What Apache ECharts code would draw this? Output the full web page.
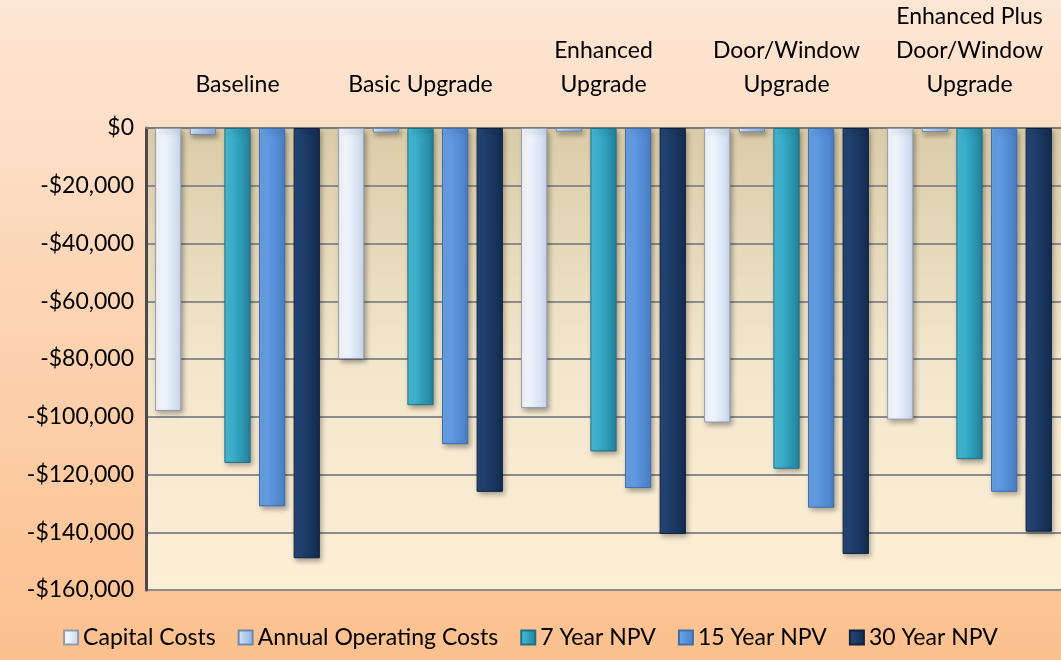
<!DOCTYPE html>
<html>
<head>
<meta charset="utf-8">
<script src="https://cdn.jsdelivr.net/npm/echarts@6/dist/echarts.min.js"></script>
<style>
  html, body { margin: 0; padding: 0; }
  #chart { width: 1061px; height: 660px; }
</style>
</head>
<body>
<div id="chart"></div>
<script>
// categories along the top
const categories = [
  'Baseline',
  'Basic Upgrade',
  'Enhanced\nUpgrade',
  'Door/Window\nUpgrade',
  'Enhanced Plus\nDoor/Window\nUpgrade'
]
const seriesNames = ['Capital Costs', 'Annual Operating Costs', '7 Year NPV', '15 Year NPV', '30 Year NPV']

// values (dollars)
const capitalCosts = [-98000, -80000, -97000, -102000, -101000]
const annualOperating = [-2400, -1600, -1300, -1500, -1400]
const npv7 = [-116000, -96000, -112000, -118000, -114700]
const npv15 = [-131000, -109500, -124700, -131500, -126000]
const npv30 = [-149000, -126000, -140600, -147500, -139800]

const yMin = -160000
const yMax = 0
const yStep = 20000

// left-light / right-dark fills to fake the rounded look
function barFill(light, mid, dark) {
  return new echarts.graphic.LinearGradient(0, 0, 1, 0, [
    { offset: 0, color: light },
    { offset: 0.45, color: mid },
    { offset: 1, color: dark }
  ])
}

const styles = [
  { fill: barFill('#ffffff', '#e8f0fb', '#c9d6ea'), border: '#8e9aae' },
  { fill: barFill('#dcebfb', '#b2cff0', '#8fb1dd'), border: '#6f87aa' },
  { fill: barFill('#4cc0da', '#33a6c3', '#23819a'), border: '#1f6f85' },
  { fill: barFill('#6ea6e8', '#5b95de', '#4a7fc6'), border: '#3f6ea8' },
  { fill: barFill('#26497c', '#1d3b67', '#142c50'), border: '#0f213d' }
]
const allData = [capitalCosts, annualOperating, npv7, npv15, npv30]

const chart = echarts.init(document.getElementById('chart'))

const series = seriesNames.map((name, i) => ({
  name: name,
  type: 'bar',
  data: allData[i],
  barGap: '32%',
  barCategoryGap: '10%',
  itemStyle: {
    color: styles[i].fill,
    borderColor: styles[i].border,
    borderWidth: 1,
    shadowColor: 'rgba(0,0,0,0.35)',
    shadowBlur: 5,
    shadowOffsetX: 2,
    shadowOffsetY: 3
  }
}))

chart.setOption({
  animation: false,
  backgroundColor: new echarts.graphic.LinearGradient(0, 0, 0, 1, [
    { offset: 0, color: '#fde6d4' },
    { offset: 1, color: '#fcc08e' }
  ]),
  textStyle: { fontFamily: 'Lato, "Open Sans", sans-serif' },
  grid: {
    left: 146,
    top: 127,
    width: 920,
    height: 463,
    show: true,
    borderWidth: 0,
    backgroundColor: new echarts.graphic.LinearGradient(0, 0, 0, 1, [
      { offset: 0, color: '#dacca8' },
      { offset: 0.5, color: '#f2e6cc' },
      { offset: 1, color: '#fcefd6' }
    ])
  },
  legend: {
    bottom: 6,
    left: 'center',
    icon: 'rect',
    itemWidth: 14,
    itemHeight: 14,
    itemGap: 22,
    textStyle: { fontSize: 23, color: '#000', fontFamily: 'Lato, sans-serif' },
    data: seriesNames
  },
  xAxis: {
    type: 'category',
    position: 'top',
    data: categories,
    axisLine: { show: true, lineStyle: { color: '#7a7a7a', width: 2 } },
    axisTick: { show: false },
    axisLabel: {
      interval: 0,
      fontSize: 23,
      lineHeight: 34,
      color: '#000',
      margin: 26,
      verticalAlign: 'bottom'
    }
  },
  yAxis: {
    type: 'value',
    min: yMin,
    max: yMax,
    interval: yStep,
    axisLine: { show: true, lineStyle: { color: '#4a4a4a', width: 3 } },
    axisTick: { show: false },
    splitLine: { lineStyle: { color: '#8c8c8c', width: 2 } },
    axisLabel: {
      fontSize: 23,
      color: '#000',
      margin: 12,
      formatter: v => (v < 0 ? '-$' : '$') + Math.abs(v).toLocaleString('en-US')
    }
  },
  series: series
})
</script>
</body>
</html>
